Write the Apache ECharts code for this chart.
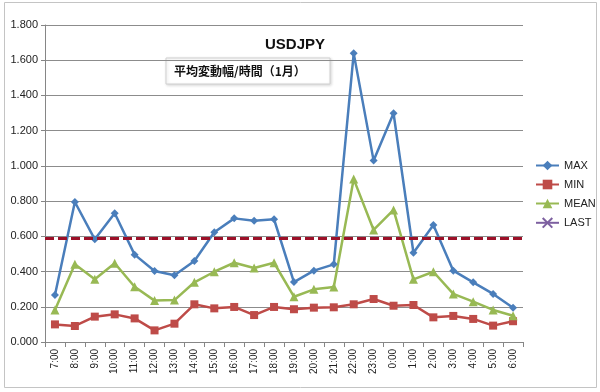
<!DOCTYPE html>
<html>
<head>
<meta charset="utf-8">
<script src="https://cdn.jsdelivr.net/npm/echarts@6/dist/echarts.min.js"></script>
<style>html,body{margin:0;padding:0;background:#fff;}#c{width:600px;height:392px;}</style>
</head>
<body>
<div id="c"></div>
<script>
const categories = ['7:00','8:00','9:00','10:00','11:00','12:00','13:00','14:00','15:00','16:00','17:00','18:00','19:00','20:00','21:00','22:00','23:00','0:00','1:00','2:00','3:00','4:00','5:00','6:00'];
const maxValues = [0.267,0.795,0.583,0.731,0.496,0.403,0.379,0.460,0.623,0.702,0.689,0.697,0.340,0.405,0.441,1.639,1.030,1.299,0.507,0.664,0.405,0.339,0.273,0.195];
const minValues = [0.100,0.091,0.144,0.157,0.134,0.066,0.104,0.214,0.191,0.199,0.153,0.199,0.186,0.195,0.197,0.214,0.244,0.206,0.210,0.140,0.148,0.131,0.093,0.118];
const meanValues = [0.182,0.441,0.356,0.447,0.314,0.235,0.238,0.339,0.399,0.450,0.420,0.450,0.257,0.299,0.312,0.925,0.636,0.750,0.356,0.399,0.273,0.229,0.182,0.149];
const lastValue = 0.594;
const yTicks = [0, 0.2, 0.4, 0.6, 0.8, 1.0, 1.2, 1.4, 1.6, 1.8];

const chart = echarts.init(document.getElementById('c'), null, {renderer: 'canvas'});
const xPath = 'path://M0,0 L10,10 M10,0 L0,10';
const font = 'Liberation Sans, Arial, sans-serif';
const option = {
  backgroundColor: '#fff',
  animation: false,
  textStyle: {fontFamily: font},
  grid: {left: 45, right: 77, top: 25, bottom: 50},
  graphic: [
    {type: 'rect', shape: {x: 4.5, y: 2.5, width: 592, height: 385}, style: {fill: 'none', stroke: '#c4c4c4', lineWidth: 1}, z: -1},
    {type: 'text', left: 265, top: 37, style: {text: 'USDJPY', font: 'bold 15px ' + font, fill: '#111'}},
    {type: 'rect', shape: {x: 166, y: 58, width: 164, height: 26}, style: {fill: '#fff', stroke: '#d0d0d0', lineWidth: 1, shadowBlur: 3, shadowColor: 'rgba(0,0,0,0.15)', shadowOffsetX: 1, shadowOffsetY: 1}},
    {type: 'text', left: 174, top: 65, style: {text: '平均変動幅/時間（1月）', font: 'bold 12px "Noto Sans CJK JP", sans-serif', fill: '#111'}}
  ],
  legend: {
    orient: 'vertical', left: 530, top: 155, itemGap: 8, itemWidth: 23, itemHeight: 12,
    textStyle: {fontSize: 11, color: '#222', fontFamily: font},
    data: ['MAX','MIN','MEAN','LAST']
  },
  xAxis: {
    type: 'category', data: categories, boundaryGap: true,
    axisLine: {lineStyle: {color: '#868686', width: 1}},
    axisTick: {show: true, alignWithLabel: false, length: 5, lineStyle: {color: '#868686'}},
    axisLabel: {rotate: 90, fontSize: 10, color: '#222', margin: 7, interval: 0}
  },
  yAxis: {
    type: 'value', min: 0, max: 1.8, interval: 0.2,
    axisLine: {show: true, lineStyle: {color: '#868686'}},
    axisTick: {show: true, length: 4, lineStyle: {color: '#868686'}},
    axisLabel: {fontSize: 11, color: '#222', margin: 7, formatter: v => v.toFixed(3)},
    splitLine: {lineStyle: {color: '#8c8c8c', width: 1}}
  },
  series: [
    {name: 'MAX', type: 'line', data: maxValues, color: '#4a7ebb', symbol: 'diamond', symbolSize: 8,
     lineStyle: {width: 2.5}, itemStyle: {color: '#4a7ebb'}},
    {name: 'MIN', type: 'line', data: minValues, color: '#be4b48', symbol: 'rect', symbolSize: 8,
     lineStyle: {width: 2.5}, itemStyle: {color: '#be4b48'}},
    {name: 'MEAN', type: 'line', data: meanValues, color: '#98b954', symbol: 'triangle', symbolSize: 9,
     lineStyle: {width: 2.5}, itemStyle: {color: '#98b954'}},
    {name: 'LAST', type: 'line', data: categories.map(() => null), color: '#7d60a0', symbol: xPath, symbolSize: 8,
     lineStyle: {width: 2.5}, itemStyle: {color: '#7d60a0', borderColor: '#7d60a0', borderWidth: 1.5},
     markLine: {silent: true, symbol: 'none', label: {show: false},
       lineStyle: {color: '#9c1028', type: [9, 4], width: 3},
       data: [{yAxis: lastValue}]}}
  ]
};
chart.setOption(option);
</script>
</body>
</html>
